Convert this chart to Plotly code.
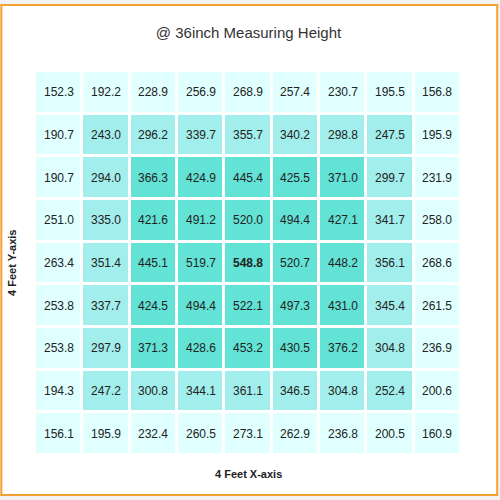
import plotly.graph_objects as go

# readings at 36 inch height, rows top to bottom
row_0 = [152.3, 192.2, 228.9, 256.9, 268.9, 257.4, 230.7, 195.5, 156.8]
row_1 = [190.7, 243.0, 296.2, 339.7, 355.7, 340.2, 298.8, 247.5, 195.9]
row_2 = [190.7, 294.0, 366.3, 424.9, 445.4, 425.5, 371.0, 299.7, 231.9]
row_3 = [251.0, 335.0, 421.6, 491.2, 520.0, 494.4, 427.1, 341.7, 258.0]
row_4 = [263.4, 351.4, 445.1, 519.7, 548.8, 520.7, 448.2, 356.1, 268.6]
row_5 = [253.8, 337.7, 424.5, 494.4, 522.1, 497.3, 431.0, 345.4, 261.5]
row_6 = [253.8, 297.9, 371.3, 428.6, 453.2, 430.5, 376.2, 304.8, 236.9]
row_7 = [194.3, 247.2, 300.8, 344.1, 361.1, 346.5, 304.8, 252.4, 200.6]
row_8 = [156.1, 195.9, 232.4, 260.5, 273.1, 262.9, 236.8, 200.5, 160.9]
values = [row_0, row_1, row_2, row_3, row_4, row_5, row_6, row_7, row_8]

n = len(values)
cols = list(range(n))
rows = list(range(n))

# shading follows concentric rings (outer, second, inner block)
ring = [[min(i, j, n - 1 - i, n - 1 - j, 2) for j in cols] for i in rows]
peak = max(max(r) for r in values)
text = [[f"<b>{v:.1f}</b>" if v == peak else f"{v:.1f}" for v in r] for r in values]

colorscale = [
    [0.0, "#e0ffff"], [0.333, "#e0ffff"],
    [0.333, "#a2eeec"], [0.667, "#a2eeec"],
    [0.667, "#63e2d6"], [1.0, "#63e2d6"],
]

fig = go.Figure(go.Heatmap(
    z=ring, x=cols, y=rows, text=text, texttemplate="%{text}",
    textfont=dict(size=12, color="#222222", family="Arial"),
    colorscale=colorscale, zmin=0, zmax=2, showscale=False,
    xgap=3, ygap=3, hoverinfo="skip",
))

# orange frame around the whole card
fig.add_shape(type="rect", xref="paper", yref="paper",
              x0=-0.079, x1=1.085, y0=-0.104, y1=1.172,
              line=dict(color="#f5a033", width=2), fillcolor="white", layer="below")

fig.add_annotation(text="<b>4 Feet X-axis</b>", xref="paper", yref="paper",
                   x=0.5, y=-0.05, showarrow=False, yanchor="middle",
                   font=dict(size=11, color="#222222"))
fig.add_annotation(text="<b>4 Feet Y-axis</b>", xref="paper", yref="paper",
                   x=-0.054, y=0.5, showarrow=False, textangle=-90, xanchor="center",
                   font=dict(size=11, color="#222222"))

fig.update_layout(
    width=500, height=500,
    margin=dict(l=35, r=39, t=71, b=45),
    title=dict(text="@ 36inch Measuring Height", x=0.497, xanchor="center",
               y=0.934, yanchor="middle", font=dict(size=15, color="#333333")),
    font=dict(family="Arial"),
    paper_bgcolor="#f3f3f3", plot_bgcolor="white",
)
fig.update_xaxes(showticklabels=False, showgrid=False, zeroline=False, ticks="")
fig.update_yaxes(showticklabels=False, showgrid=False, zeroline=False, ticks="",
                 autorange="reversed")

fig.write_html("out.html", config={"displayModeBar": False},
               post_script="document.body.style.margin='0';")
